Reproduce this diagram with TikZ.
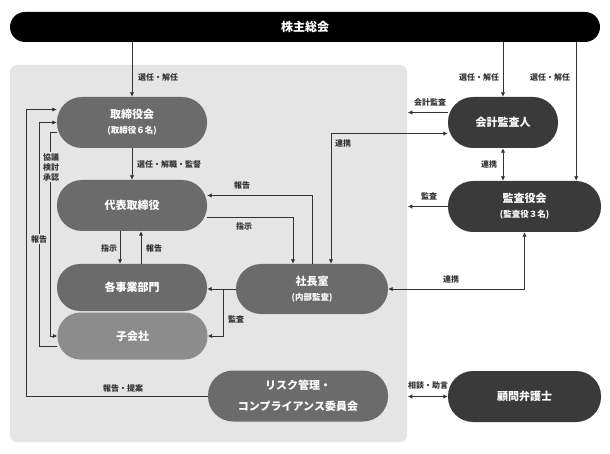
\documentclass[tikz,border=0pt]{standalone}
\usepackage{fontspec}
\setmainfont{Noto Sans CJK JP}
\usetikzlibrary{arrows.meta}
\definecolor{bgpanel}{HTML}{E5E5E5}
\definecolor{midbox}{HTML}{6B6B6B}
\definecolor{lightbox}{HTML}{8C8C8C}
\definecolor{darkbox}{HTML}{3A3A3A}
\definecolor{linecol}{HTML}{333333}
\tikzset{
  box/.style={fill=midbox, text=white, minimum width=150pt, minimum height=51pt,
    rounded corners=25pt, inner sep=0pt, align=center,
    font=\fontsize{11}{15}\selectfont\bfseries},
  dbox/.style={box, fill=darkbox},
  topbar/.style={box, fill=black, minimum width=590pt, minimum height=30pt,
    rounded corners=15pt, font=\fontsize{12}{14}\selectfont\bfseries},
  sub/.style={font=\fontsize{8.5}{10}\selectfont\bfseries},
  lbl/.style={text=linecol, inner sep=1pt, align=center,
    font=\fontsize{8}{10}\selectfont\bfseries},
  arr/.style={draw=linecol, line width=0.9pt, -{Latex[length=4.5pt,width=4.5pt]}},
  arr2/.style={arr, {Latex[length=4.5pt,width=4.5pt]}-{Latex[length=4.5pt,width=4.5pt]}}
}
\newcommand{\subline}[1]{{\fontsize{8.5}{10}\selectfont #1}}
\begin{document}
\begin{tikzpicture}[x=1pt,y=-1pt]
\useasboundingbox (0,0) rectangle (610,454);
\fill[bgpanel, rounded corners=7pt] (10,65) rectangle (407,442);
\node[topbar] (kabunushi) at (305,27) {株主総会};

\node[box] (torishimari) at (132,122.5) {取締役会\\\subline{(取締役６名)}};
\node[box] (daihyo) at (132,205.5) {代表取締役};
\node[box, fill=lightbox, minimum height=47pt, rounded corners=23pt] (kogaisha) at (132.5,336) {子会社};
\node[box, minimum height=47pt, rounded corners=23pt] (jigyo) at (132,287.5) {各事業部門};
\node[box, minimum width=152pt, minimum height=50pt] (shacho) at (312,289) {社長室\\\subline{(内部監査)}};
\node[box, minimum width=180pt, font=\fontsize{11}{21}\selectfont\bfseries] (risk) at (298,396) {リスク管理・\\コンプライアンス委員会};
\node[dbox, minimum width=110pt] (kaikei) at (503,122.5) {会計監査人};
\node[dbox, minimum width=153pt] (kansa) at (524.5,206.5) {監査役会\\\subline{(監査役３名)}};
\node[dbox, minimum width=153pt] (bengoshi) at (524.5,396.5) {顧問弁護士};

\draw[arr] (torishimari |- kabunushi.south) -- (torishimari.north);
\draw[arr] (kaikei |- kabunushi.south) -- (kaikei.north);
\draw[arr] ([xshift=-25pt]kansa.north east |- kabunushi.south) -- ([xshift=-25pt]kansa.north east);
\draw[arr] (torishimari.south) -- (daihyo.north);
\draw[arr] ([xshift=-12pt]daihyo.south) -- ([xshift=-12pt]jigyo.north);
\draw[arr] ([xshift=9pt]jigyo.north) -- ([xshift=9pt]daihyo.south);
\draw[arr] ([yshift=-12pt]daihyo.east) -| ([xshift=-19pt]shacho.north);
\draw[arr] (shacho.north) |- ([yshift=10pt]daihyo.east);
\draw[arr2] ([yshift=-11pt]kaikei.west) -| ([xshift=19pt]shacho.north);
\draw[arr] ([yshift=10pt]kaikei.west) -- ++(-40,0);
\draw[arr2] (kaikei.south) -- (kaikei.south |- kansa.north);
\draw[arr] (kansa.west) -- ++(-40,0);
\draw[arr2] (shacho.east) -| (kansa.south);
\draw[arr] (shacho.west) -- (shacho.west -| jigyo.east);
\draw[arr] ([xshift=-12pt]shacho.west) |- (kogaisha.east);
\draw[arr2] (bengoshi.west) -- ++(-40,0);
\draw[arr] (risk.west) -- ++(-181,0) |- ([yshift=13pt]torishimari.west);
\draw[arr] ([yshift=-10pt]kogaisha.west) -- ++(-18,0) |- (torishimari.west);
\draw[arr] ([yshift=-10pt]torishimari.west) -- ++(-6,0) |- (kogaisha.west);

\foreach \p [count=\i] in {(158,77),(479,77),(550,77)}
  \node[lbl] (sennin\i) at \p {選任・解任};
\node[lbl] (kantoku) at (169,164) {選任・解職・監督};
\node[lbl] (shiji1) at (109,248) {指示};
\node[lbl] (hokoku1) at (154,248) {報告};
\node[lbl] (hokoku2) at (242,185) {報告};
\node[lbl] (shiji2) at (244,226) {指示};
\node[lbl] (renkei1) at (343,143) {連携};
\node[lbl] (kaikeikansa) at (430,102) {会計監査};
\node[lbl] (renkei2) at (489,164) {連携};
\node[lbl] (kansa1) at (429,196) {監査};
\node[lbl] (renkei3) at (451,279) {連携};
\node[lbl] (kansa2) at (236,319) {監査};
\node[lbl] (sodan) at (428,385) {相談・助言};
\node[lbl] (teian) at (123,388) {報告・提案};
\node[lbl, fill=bgpanel] (hokoku3) at (39,239) {報告};
\node[lbl, fill=bgpanel, font=\fontsize{8}{10}\selectfont\bfseries] (kyogi) at (51,167) {協議\\検討\\承認};
\end{tikzpicture}
\end{document}
